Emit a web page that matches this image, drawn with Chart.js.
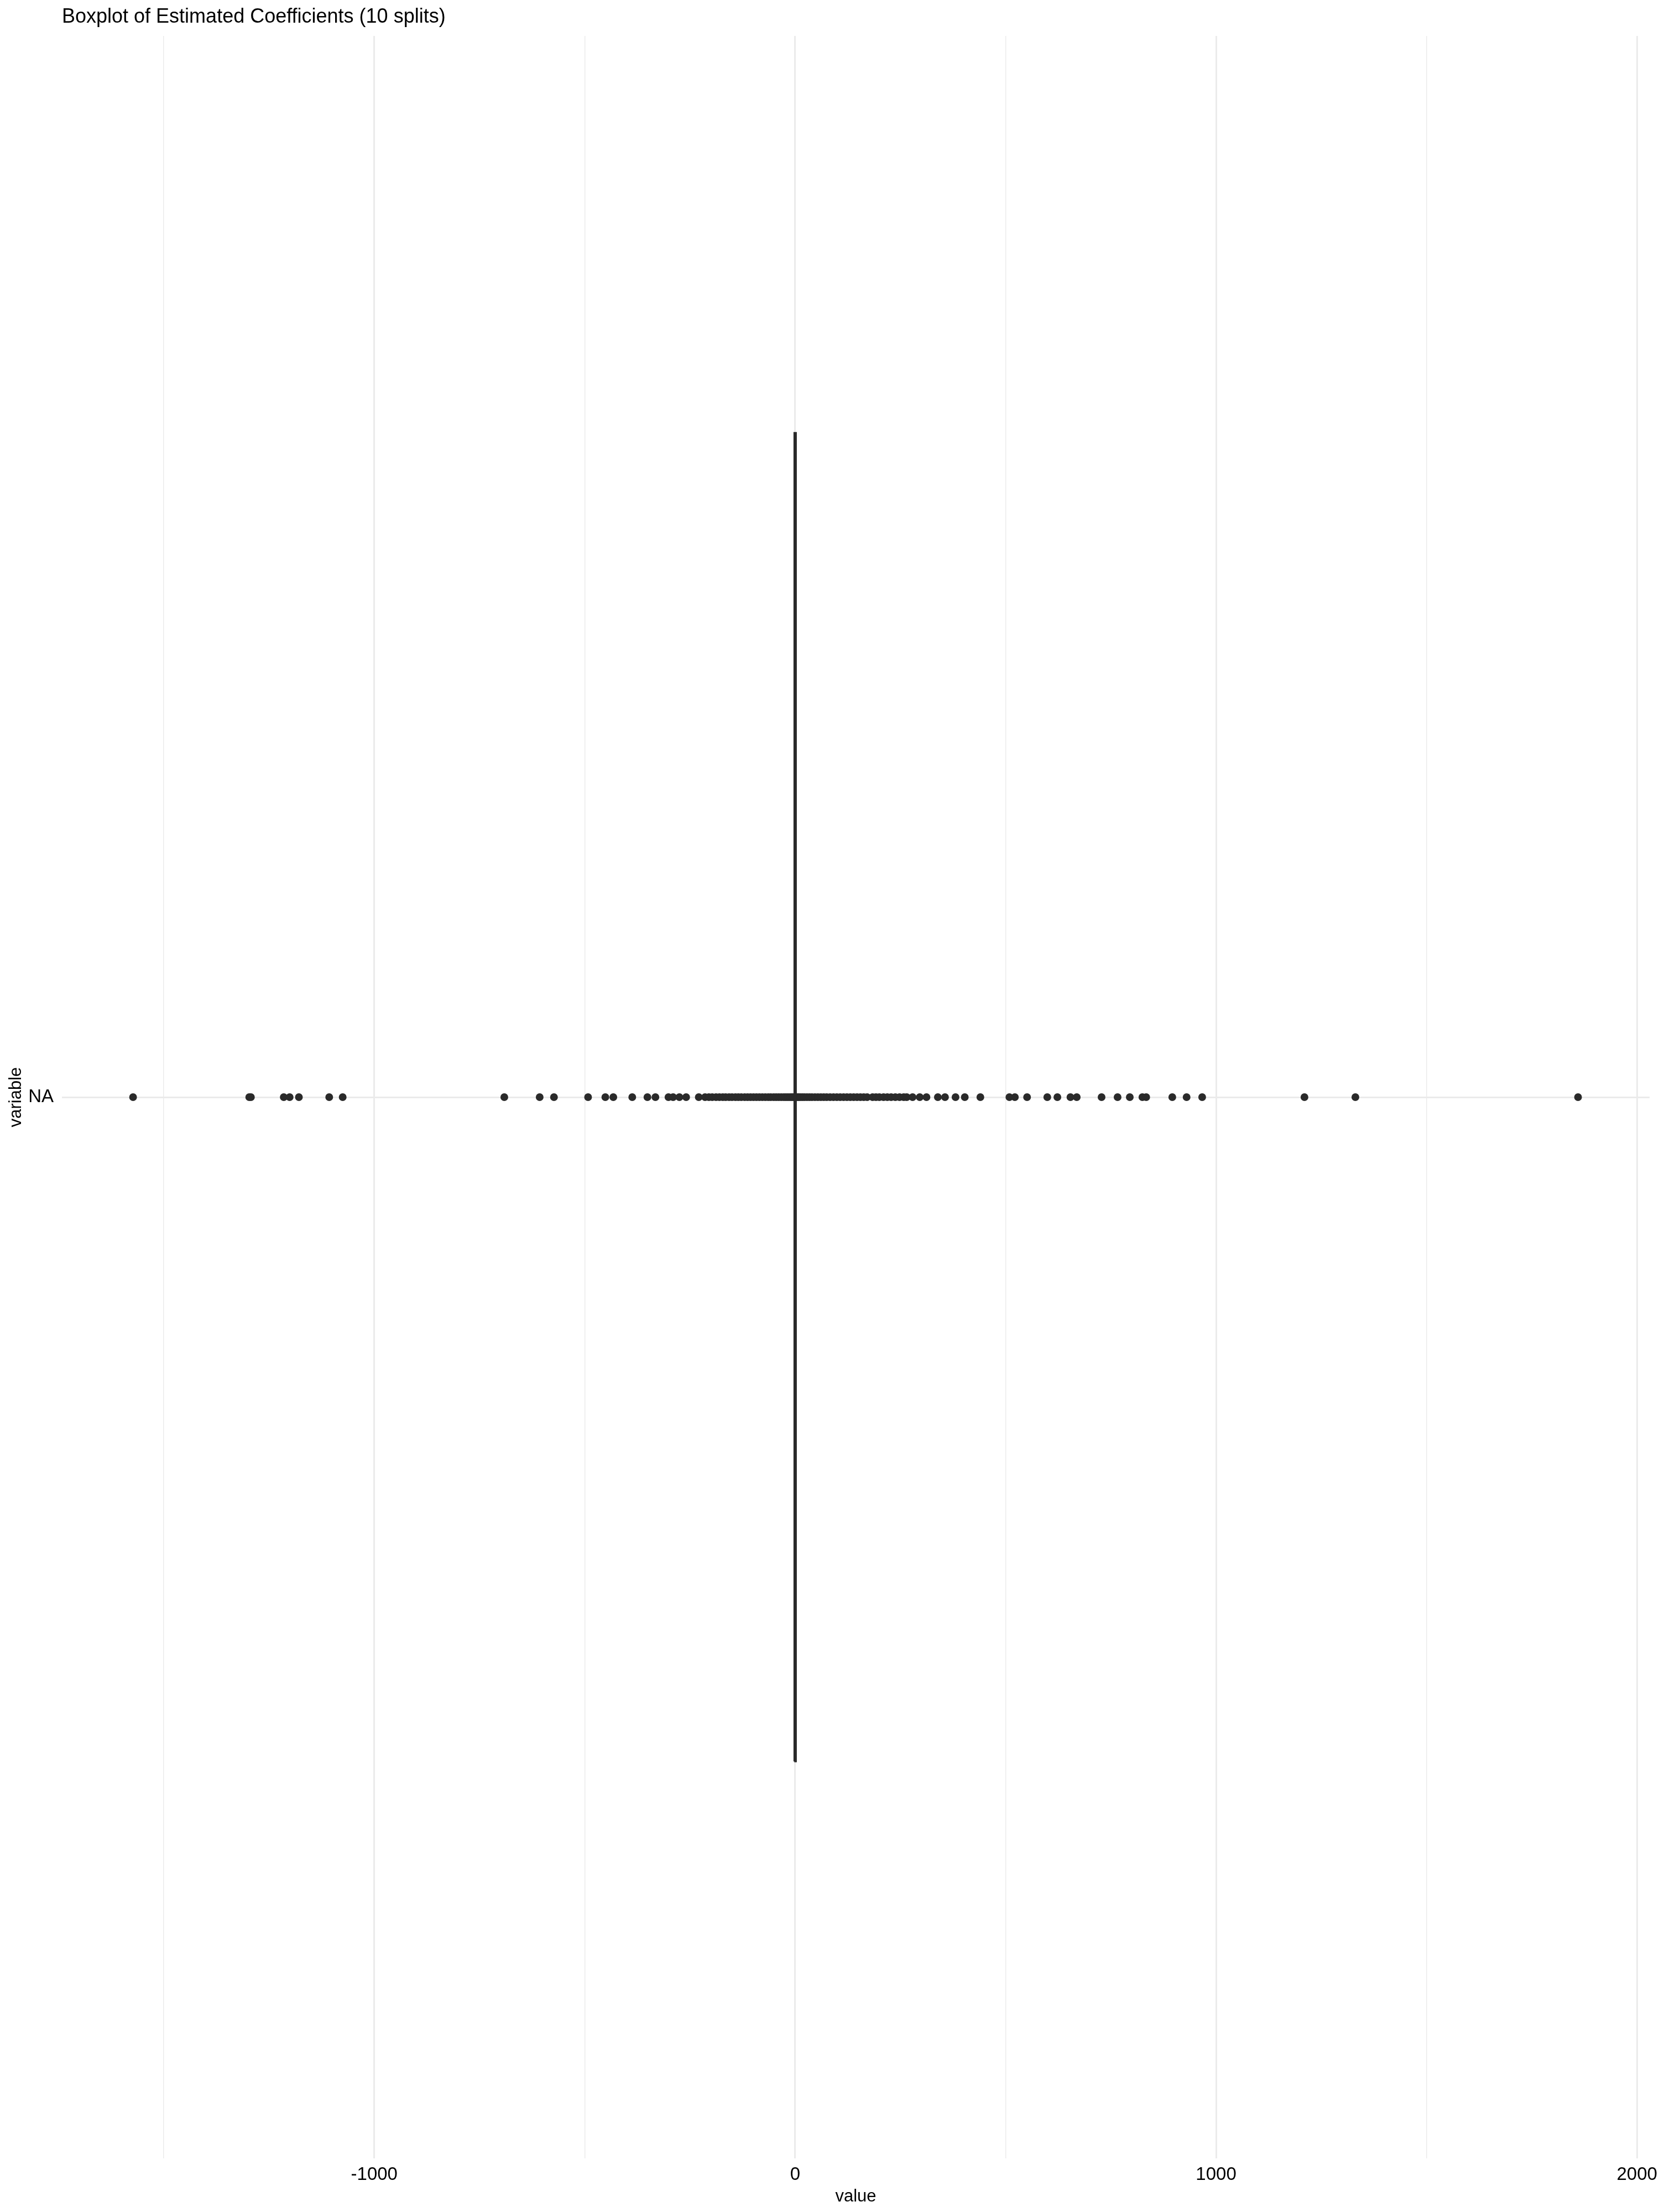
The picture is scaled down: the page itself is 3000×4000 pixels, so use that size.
<!DOCTYPE html>
<html>
<head>
<meta charset="utf-8">
<title>Boxplot of Estimated Coefficients (10 splits)</title>
<script src="https://cdn.jsdelivr.net/npm/chart.js@4.4.1/dist/chart.umd.min.js"></script>
<style>
  body { margin: 0; background: #ffffff; }
  #wrap { width: 3000px; height: 4000px; }
</style>
</head>
<body>
<div id="wrap"><canvas id="myChart"></canvas></div>
<script>
// data
const categoryLabel = 'NA';
const xTicks = [-1500, -1000, -500, 0, 500, 1000, 1500, 2000];
const xLabelTicks = [-1000, 0, 1000, 2000];
// [lower whisker, q1, median, q3, upper whisker]
const boxStats = [-5, -2, 0, 2, 5];
const outliers = [
  -1573, -1297, -1293, -1215, -1201, -1179, -1107, -1075,
  -691, -607, -573, -492, -451, -432, -387, -351, -332, -301, -290, -275, -259, -229, -214,
  -205, -197, -188, -180, -172, -165, -157, -150, -142, -135, -128, -120, -113, -106,
  -99, -92, -85, -78, -71, -64, -58, -51, -45, -39, -33, -27, -22, -17, -12, -8, -5,
  5, 8, 12, 17, 22, 28, 34, 40, 47, 54, 61, 68, 75, 83, 91, 99, 107, 115, 123, 131,
  139, 147, 155, 163, 171, 184, 192, 200, 210, 219, 228, 238, 248, 258,
  265, 279, 296, 312, 339, 356, 381, 403, 440, 509, 522, 551, 599, 623, 654, 669,
  728, 766, 795, 825, 834, 896, 930, 967, 1210, 1331, 1860
];

const BOX_HALF = 0.626;   // half height of the box in y units
const INK = '#2a2a2a';
const GRID = '#ebebeb';
const FONT = '"Liberation Sans", Arial, Helvetica, sans-serif';

let ctx = document.getElementById('myChart');

const [wLo, q1, med, q3, wHi] = boxStats;

const boxData = [
  {x: q1, y: -BOX_HALF}, {x: q3, y: -BOX_HALF},
  {x: q3, y: BOX_HALF}, {x: q1, y: BOX_HALF}, {x: q1, y: -BOX_HALF}
];

let myChart = new Chart(ctx, {
  type: 'scatter',
  data: {
    datasets: [
      {
        label: 'box',
        data: boxData,
        showLine: true,
        borderColor: INK,
        backgroundColor: '#ffffff',
        fill: true,
        borderWidth: 3,
        pointRadius: 0
      },
      {
        label: 'median',
        data: [{x: med, y: -BOX_HALF}, {x: med, y: BOX_HALF}],
        showLine: true,
        borderColor: INK,
        borderWidth: 3,
        pointRadius: 0
      },
      {
        label: 'whisker low',
        data: [{x: wLo, y: 0}, {x: q1, y: 0}],
        showLine: true,
        borderColor: INK,
        borderWidth: 3,
        pointRadius: 0
      },
      {
        label: 'whisker high',
        data: [{x: q3, y: 0}, {x: wHi, y: 0}],
        showLine: true,
        borderColor: INK,
        borderWidth: 3,
        pointRadius: 0
      },
      {
        label: 'outliers',
        data: outliers.map(v => ({x: v, y: 0})),
        pointRadius: 7,
        pointBackgroundColor: INK,
        pointBorderWidth: 0
      }
    ]
  },
  options: {
    responsive: true,
    maintainAspectRatio: false,
    animation: false,
    layout: { padding: { left: 0, right: 17, top: 0, bottom: 0 } },
    plugins: {
      legend: { display: false },
      tooltip: { enabled: false },
      title: {
        display: true,
        text: 'Boxplot of Estimated Coefficients (10 splits)',
        align: 'start',
        fullSize: false,
        color: '#000000',
        font: { family: FONT, size: 36, weight: 'normal' },
        padding: { top: 9, bottom: 12.8 }
      }
    },
    scales: {
      x: {
        type: 'linear',
        min: -1742,
        max: 2030,
        afterBuildTicks: function(scale) {
          scale.ticks = xTicks.map(v => ({value: v}));
        },
        afterFit: function(scale) {
          scale.height = 97;
          scale.paddingLeft = 0;
          scale.paddingRight = 0;
        },
        border: { display: false },
        grid: {
          color: GRID,
          drawTicks: false,
          lineWidth: c => xLabelTicks.includes(c.tick.value) ? 3 : 1.5
        },
        ticks: {
          autoSkip: false,
          maxRotation: 0,
          padding: 10,
          color: '#000000',
          font: { family: FONT, size: 33 },
          callback: v => xLabelTicks.includes(v) ? String(v) : ''
        },
        title: {
          display: true,
          text: 'value',
          color: '#000000',
          font: { family: FONT, size: 31 },
          padding: { top: 0, bottom: 9 }
        }
      },
      y: {
        type: 'linear',
        min: -1,
        max: 1,
        afterBuildTicks: function(scale) {
          scale.ticks = [{value: 0}];
        },
        afterFit: function(scale) {
          scale.width = 112;
          scale.paddingTop = 0;
          scale.paddingBottom = 0;
        },
        border: { display: false },
        grid: { color: GRID, lineWidth: 3, drawTicks: false },
        ticks: {
          padding: 15,
          color: '#000000',
          font: { family: FONT, size: 33 },
          callback: () => categoryLabel
        },
        title: {
          display: true,
          text: 'variable',
          color: '#000000',
          font: { family: FONT, size: 31 },
          padding: { top: 11, bottom: 0 }
        }
      }
    }
  }
});
</script>
</body>
</html>
